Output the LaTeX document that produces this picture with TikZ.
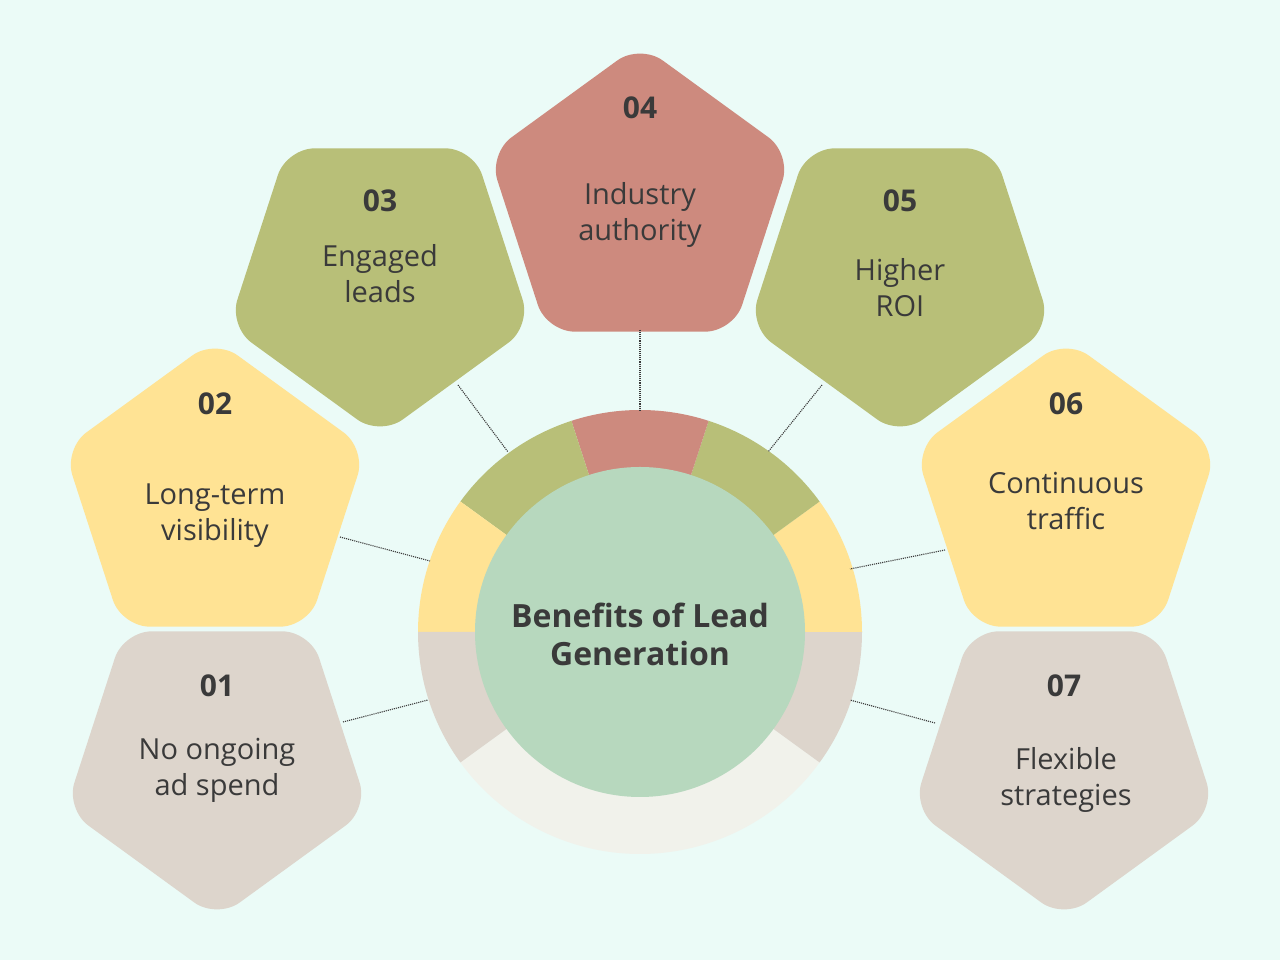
\documentclass[tikz,border=0pt]{standalone}
\usepackage{fontspec}
\setmainfont{Open Sans}
\usetikzlibrary{shapes.geometric}
\definecolor{bg}{HTML}{EBFBF7}
\definecolor{cred}{HTML}{CD8A7E}
\definecolor{cgreen}{HTML}{B8BF78}
\definecolor{cyellow}{HTML}{FFE394}
\definecolor{cgray}{HTML}{DDD5CC}
\definecolor{cmint}{HTML}{B7D8BE}
\definecolor{cwhite}{HTML}{F1F2EB}
\definecolor{txt}{HTML}{3A3A3A}
\tikzset{
 pent/.style={regular polygon, regular polygon sides=5, minimum size=318pt, inner sep=0pt, rounded corners=28pt},
 pdown/.style={pent, shape border rotate=180},
 num/.style={text=txt, font=\fontsize{30}{36}\selectfont\bfseries},
 lab/.style={text=txt, align=center, font=\fontsize{29}{36}\selectfont},
 conn/.style={draw=txt, densely dotted, line width=1.1pt}
}
\begin{document}
\begin{tikzpicture}[x=1pt,y=1pt]
\useasboundingbox (0,0) rectangle (1280,960);
\fill[bg] (0,0) rectangle (1280,960);
\coordinate (C) at (640,328);
% ring
\fill[cwhite] (C) -- ++(216:222) arc[start angle=216,end angle=324,radius=222] -- cycle;
\fill[cgray] (C) -- ++(-36:222) arc[start angle=-36,end angle=0,radius=222] -- cycle;
\fill[cyellow] (C) -- ++(0:222) arc[start angle=0,end angle=36,radius=222] -- cycle;
\fill[cgreen] (C) -- ++(36:222) arc[start angle=36,end angle=72,radius=222] -- cycle;
\fill[cred] (C) -- ++(72:222) arc[start angle=72,end angle=108,radius=222] -- cycle;
\fill[cgreen] (C) -- ++(108:222) arc[start angle=108,end angle=144,radius=222] -- cycle;
\fill[cyellow] (C) -- ++(144:222) arc[start angle=144,end angle=180,radius=222] -- cycle;
\fill[cgray] (C) -- ++(180:222) arc[start angle=180,end angle=216,radius=222] -- cycle;
\node[circle, fill=cmint, minimum size=330pt, inner sep=0pt] (center) at (C) {};
\node[text=txt, align=center, font=\fontsize{32}{38}\selectfont\bfseries] (title) at (640,326) {Benefits of Lead\\Generation};
% pentagons
\node[pent, fill=cred] (p4) at (640,757) {};
\node[pdown, fill=cgreen] (p3) at (380,683) {};
\node[pdown, fill=cgreen] (p5) at (900,683) {};
\node[pent, fill=cyellow] (p2) at (215,462) {};
\node[pent, fill=cyellow] (p6) at (1066,462) {};
\node[pdown, fill=cgray] (p1) at (217,200) {};
\node[pdown, fill=cgray] (p7) at (1064,200) {};
% texts
\node[num] (n4) at (640,852) {04};
\node[lab] (t4) at (640,745) {Industry\\authority};
\node[num] (n3) at (380,759) {03};
\node[lab] (t3) at (380,686) {Engaged\\leads};
\node[num] (n5) at (900,759) {05};
\node[lab] (t5) at (900,672) {Higher\\ROI};
\node[num] (n2) at (215,556) {02};
\node[lab] (t2) at (215,444) {Long-term\\visibility};
\node[num] (n6) at (1066,556) {06};
\node[lab] (t6) at (1066,459) {Continuous\\traffic};
\node[num] (n1) at (217,274) {01};
\node[lab] (t1) at (217,190) {No ongoing\\ad spend};
\node[num] (n7) at (1064,274) {07};
\node[lab] (t7) at (1066,180) {Flexible\\strategies};
% connectors
\coordinate (a4) at (640,630); \coordinate (b4) at (640,550);
\coordinate (a3) at (458,575); \coordinate (b3) at (508,508);
\coordinate (a5) at (822,575); \coordinate (b5) at (768,508);
\coordinate (a2) at (340,423); \coordinate (b2) at (430,399);
\coordinate (a6) at (945,410); \coordinate (b6) at (850,391);
\coordinate (a1) at (343,238); \coordinate (b1) at (428,260);
\coordinate (a7) at (935,237); \coordinate (b7) at (850,260);
\foreach \i in {1,...,7}{\draw[conn] (a\i) -- (b\i);}
\end{tikzpicture}
\end{document}
